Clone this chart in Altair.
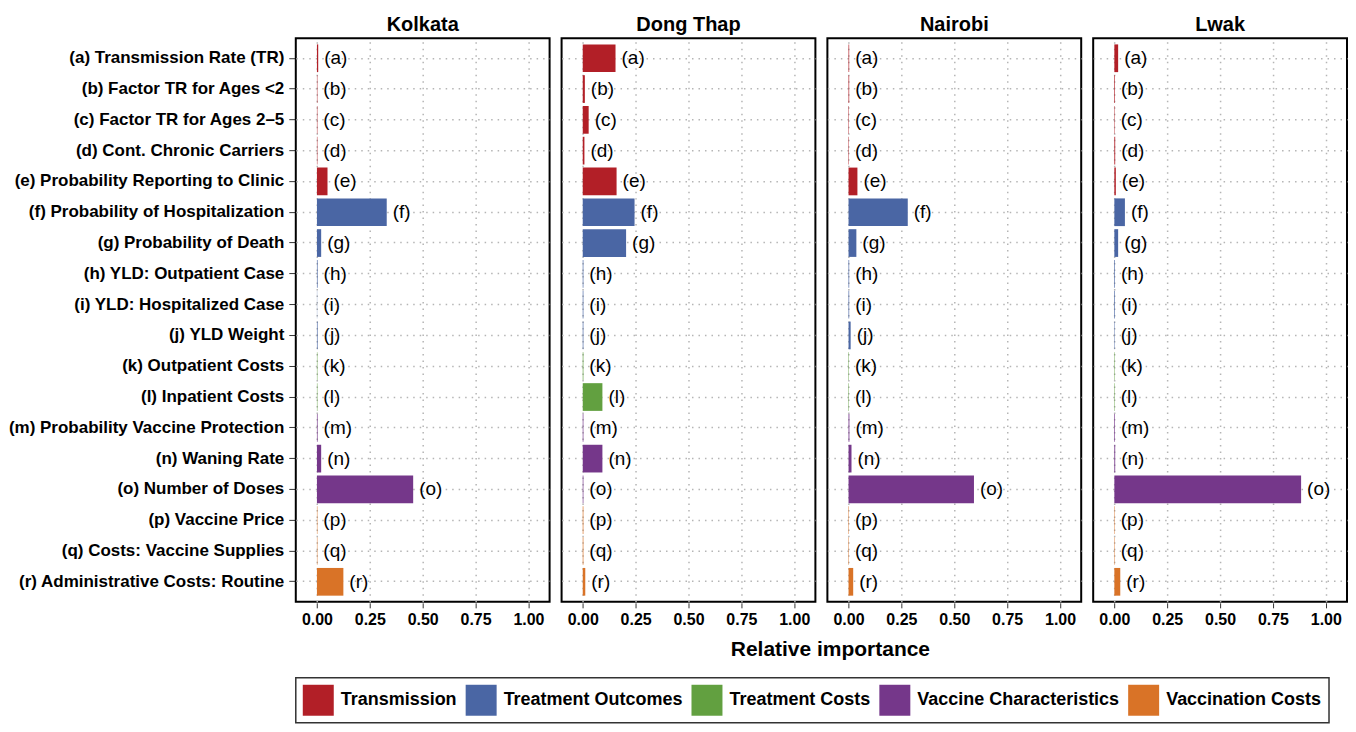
import altair as alt
import pandas as pd

cities = ["Kolkata", "Dong Thap", "Nairobi", "Lwak"]
letters = ["a", "b", "c", "d", "e", "f", "g", "h", "i", "j", "k", "l", "m", "n", "o", "p", "q", "r"]
params = [
    "(a) Transmission Rate (TR)",
    "(b) Factor TR for Ages <2",
    "(c) Factor TR for Ages 2\u20135",
    "(d) Cont. Chronic Carriers",
    "(e) Probability Reporting to Clinic",
    "(f) Probability of Hospitalization",
    "(g) Probability of Death",
    "(h) YLD: Outpatient Case",
    "(i) YLD: Hospitalized Case",
    "(j) YLD Weight",
    "(k) Outpatient Costs",
    "(l) Inpatient Costs",
    "(m) Probability Vaccine Protection",
    "(n) Waning Rate",
    "(o) Number of Doses",
    "(p) Vaccine Price",
    "(q) Costs: Vaccine Supplies",
    "(r) Administrative Costs: Routine",
]
groups = ["Transmission"] * 5 + ["Treatment Outcomes"] * 5 + ["Treatment Costs"] * 2 + \
         ["Vaccine Characteristics"] * 3 + ["Vaccination Costs"] * 3
group_order = ["Transmission", "Treatment Outcomes", "Treatment Costs",
               "Vaccine Characteristics", "Vaccination Costs"]
group_colors = ["#B21F27", "#4A66A4", "#62A040", "#75378A", "#D97327"]

kolkata = [0.006, 0.002, 0.002, 0.002, 0.05, 0.33, 0.02, 0.003, 0.001, 0.003,
           0.002, 0.002, 0.003, 0.02, 0.455, 0.002, 0.002, 0.125]
dong_thap = [0.155, 0.01, 0.028, 0.008, 0.16, 0.245, 0.205, 0.003, 0.003, 0.003,
             0.003, 0.093, 0.003, 0.093, 0.003, 0.003, 0.003, 0.012]
nairobi = [0.003, 0.003, 0.002, 0.002, 0.042, 0.28, 0.037, 0.003, 0.003, 0.01,
           0.002, 0.002, 0.004, 0.014, 0.593, 0.002, 0.002, 0.022]
lwak = [0.018, 0.003, 0.002, 0.004, 0.007, 0.05, 0.018, 0.003, 0.003, 0.002,
        0.002, 0.002, 0.003, 0.004, 0.883, 0.002, 0.002, 0.028]
city_values = [kolkata, dong_thap, nairobi, lwak]

rows = []
for city, vals in zip(cities, city_values):
    for p, l, g, v in zip(params, letters, groups, vals):
        rows.append({"city": city, "param": p, "tag": "(" + l + ")", "group": g, "value": v})
df = pd.DataFrame(rows)

FONT = "Liberation Sans"

x_enc = alt.X("value:Q",
              scale=alt.Scale(domain=[-0.1, 1.1], nice=False, zero=False),
              axis=alt.Axis(values=[0, 0.25, 0.5, 0.75, 1.0], format=".2f", title=None,
                            grid=True, gridColor="#b5b5b5", gridDash=[1.5, 5], gridWidth=1.5,
                            domain=False, tickSize=5, tickColor="#333333",
                            labelFontSize=16, labelFontWeight="bold", labelColor="black",
                            labelFont=FONT, labelPadding=4))
y_enc = alt.Y("param:N", sort=params,
              scale=alt.Scale(paddingInner=0.1, paddingOuter=0.2),
              axis=alt.Axis(title=None, grid=True, gridColor="#b5b5b5", gridDash=[1.5, 5],
                            gridWidth=1.5, domain=False, tickSize=6, tickColor="#333333",
                            labelFontSize=17, labelFontWeight="bold", labelColor="black",
                            labelFont=FONT, labelPadding=5, labelLimit=400))

bars = alt.Chart().mark_bar().encode(
    x=x_enc,
    y=y_enc,
    color=alt.Color("group:N", scale=alt.Scale(domain=group_order, range=group_colors),
                    legend=alt.Legend(title=None)),
)
labels = alt.Chart().mark_text(align="left", baseline="middle", dx=6, fontSize=19,
                               font=FONT, color="black").encode(
    x="value:Q",
    y=alt.Y("param:N", sort=params),
    text="tag:N",
)

panels = alt.layer(bars, labels, data=df).properties(width=254, height=564).facet(
    column=alt.Column("city:N", sort=cities,
                      header=alt.Header(title=None, labelFontSize=20, labelFontWeight="bold",
                                        labelFont=FONT, labelColor="black", labelPadding=2)),
    spacing=10,
)

title_chart = alt.Chart(pd.DataFrame({"t": ["Relative importance"]})).mark_text(
    fontSize=21, fontWeight="bold", font=FONT, color="black", align="center", baseline="middle"
).encode(
    text="t:N", x=alt.value(535), y=alt.value(18)
).properties(width=1040, height=28, view=alt.ViewBackground(strokeOpacity=0))

chart = alt.vconcat(panels, title_chart, spacing=4).configure_view(
    stroke="black", strokeWidth=2
).configure_legend(
    orient="bottom", direction="horizontal", symbolType="square", symbolSize=961,
    symbolStrokeWidth=0, symbolOpacity=1, labelFontSize=18, labelFontWeight="bold",
    labelFont=FONT, labelColor="black", labelLimit=400, labelOffset=7, columnPadding=8,
    padding=7, strokeColor="#333333", strokeWidth=1.5, offset=18
).properties(padding={"top": 7, "left": 0, "right": 0, "bottom": 0})

chart.save("out.html", embed_options={"renderer": "svg", "actions": False})
